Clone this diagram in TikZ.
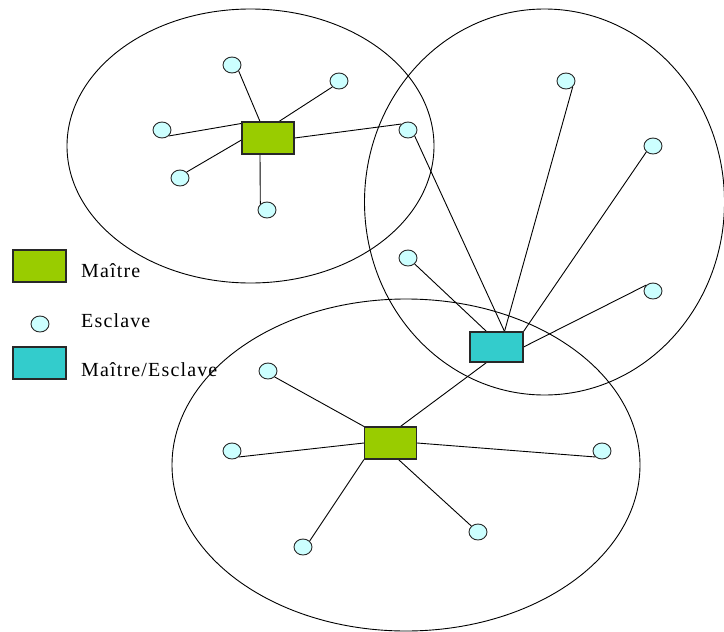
\documentclass[tikz,border=0pt]{standalone}
\usepackage{fontspec}
\setmainfont{Liberation Serif}
\usetikzlibrary{shapes.geometric,backgrounds,calc}
\definecolor{maitre}{RGB}{153,204,0}
\definecolor{mesc}{RGB}{51,204,204}
\definecolor{esc}{RGB}{204,255,255}
\definecolor{edge}{RGB}{40,40,40}
\tikzset{
  maitrebox/.style={draw=edge,line width=1.1pt,fill=maitre,rectangle,minimum width=52pt,minimum height=32pt,inner sep=0pt},
  mescbox/.style={draw=edge,line width=1.1pt,fill=mesc,rectangle,minimum width=53pt,minimum height=30pt,inner sep=0pt},
  esclave/.style={draw=edge,line width=0.9pt,fill=esc,ellipse,minimum width=18pt,minimum height=16pt,inner sep=0pt},
  link/.style={draw=black,line width=0.9pt},
  zone/.style={draw=black,line width=0.9pt},
  legtext/.style={anchor=base west,inner sep=0pt,font=\fontsize{20}{23}\selectfont\addfontfeature{LetterSpace=5.8}}
}
\begin{document}
\begin{tikzpicture}[x=1pt,y=-1pt]
\useasboundingbox (0,0) rectangle (724,632);
% nodes
\node[maitrebox] (g1) at (268,138) {};
\node[maitrebox] (g2) at (390.5,443) {};
\node[mescbox] (c) at (496.5,347) {};
\node[esclave] (s1) at (232,65) {};
\node[esclave] (s2) at (339,81) {};
\node[esclave] (s3) at (162,130) {};
\node[esclave] (s4) at (180,178) {};
\node[esclave] (s5) at (267,210) {};
\node[esclave] (s6) at (408,130) {};
\node[esclave] (r1) at (566,81) {};
\node[esclave] (r2) at (653,146) {};
\node[esclave] (r3) at (408,258) {};
\node[esclave] (r4) at (653,291) {};
\node[esclave] (b1) at (268,371) {};
\node[esclave] (b2) at (232,451) {};
\node[esclave] (b3) at (602,451) {};
\node[esclave] (b4) at (303,547) {};
\node[esclave] (b5) at (478,532) {};
% legend
\node[maitrebox,minimum width=53pt] (lg) at (39.5,266) {};
\node[esclave] (le) at (40,324) {};
\node[mescbox,minimum height=32pt] (lc) at (39.5,363) {};
\node[legtext] (t1) at (81,277) {Maître};
\node[legtext] (t2) at (81,327) {Esclave};
\node[legtext] (t3) at (81,376) {Maître/Esclave};
\begin{scope}[on background layer]
\fill[white] (0,0) rectangle (724,632);
\draw[zone] (250.5,146) ellipse [x radius=183.5pt, y radius=137pt];
\draw[zone] (544.5,202) ellipse [x radius=180pt, y radius=193pt];
\draw[zone] (406,465) ellipse [x radius=234pt, y radius=166pt];
% top-left group
\draw[link] ($(g1.north)+(-8,0)$) -- (s1.south east);
\draw[link] ($(g1.north)+(11,0)$) -- (s2.south west);
\draw[link] ($(g1.north west)+(0,2)$) -- (s3.south east);
\draw[link] ($(g1.west)+(0,2)$) -- (s4.north east);
\draw[link] ($(g1.south)+(-8,0)$) -- (s5.north west);
\draw[link] (g1.east) -- (s6.north west);
\draw[link] (s6.south east) -- ($(c.north)+(8,0)$);
% right group
\draw[link] (r1.south east) -- ($(c.north)+(8,0)$);
\draw[link] (r2.south west) -- (c.north east);
\draw[link] (r3.south east) -- ($(c.north)+(-10,0)$);
\draw[link] (r4.north west) -- (c.east);
\draw[link] ($(c.south)+(-10,0)$) -- ($(g2.north)+(10,0)$);
% bottom group
\draw[link] (b1.south east) -- (g2.north west);
\draw[link] (b2.south east) -- (g2.west);
\draw[link] (b3.south west) -- (g2.east);
\draw[link] (b4.north east) -- (g2.south west);
\draw[link] (b5.north west) -- ($(g2.south)+(8,0)$);
\end{scope}
\end{tikzpicture}
\end{document}
